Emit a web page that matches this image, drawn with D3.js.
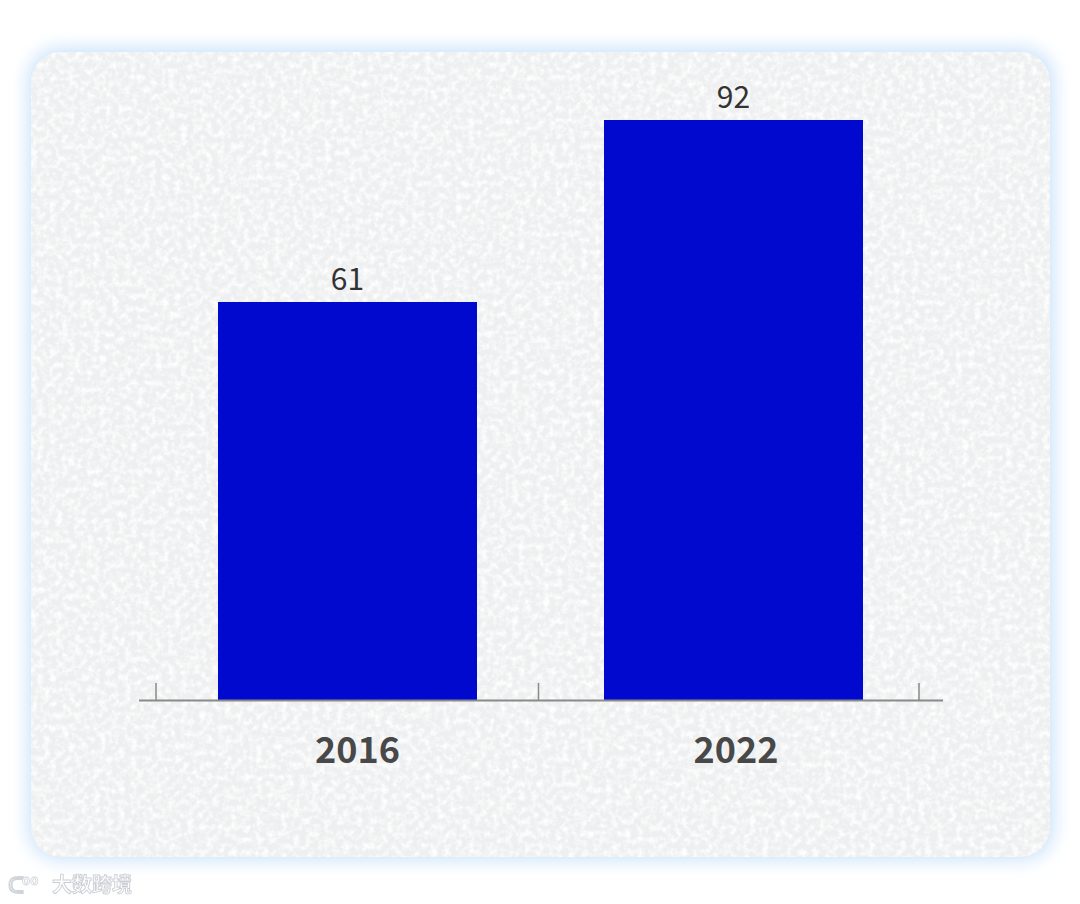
<!DOCTYPE html>
<html><head><meta charset="utf-8">
<script src="https://cdn.jsdelivr.net/npm/d3@7"></script>
<style>html,body{margin:0;padding:0;background:#fff;}svg{display:block;}</style>
</head><body><div id="chart"></div>
<script>
const categories = ["2016", "2022"];
const values = [61, 92];
const valueLabels = ["61", "92"];

const W = 1080, H = 904;
const svg = d3.select("#chart").append("svg").attr("width", W).attr("height", H);
const defs = svg.append("defs");

const glow = defs.append("filter").attr("id", "glow").attr("x", "-10%").attr("y", "-10%").attr("width", "120%").attr("height", "120%");
glow.append("feGaussianBlur").attr("in", "SourceGraphic").attr("stdDeviation", 9);

const tex = defs.append("filter").attr("id", "tex").attr("x", 0).attr("y", 0).attr("width", "100%").attr("height", "100%");
tex.append("feTurbulence").attr("type", "fractalNoise").attr("baseFrequency", 0.16).attr("numOctaves", 3).attr("seed", 7).attr("result", "n");
tex.append("feColorMatrix").attr("in", "n").attr("type", "matrix")
  .attr("values", "0 0 0 0 1  0 0 0 0 1  0 0 0 0 1  0 0 0 -2.2 1.35").attr("result", "w");
tex.append("feComposite").attr("in", "w").attr("in2", "SourceGraphic").attr("operator", "in").attr("result", "wc");
tex.append("feMerge").call(m => { m.append("feMergeNode").attr("in", "SourceGraphic"); m.append("feMergeNode").attr("in", "wc"); });

// card glow
svg.append("rect").attr("x", 28).attr("y", 48).attr("width", 1026).attr("height", 812).attr("rx", 32)
  .attr("fill", "#c9e2fb").attr("filter", "url(#glow)");
svg.append("rect").attr("x", 31).attr("y", 52).attr("width", 1019).attr("height", 805).attr("rx", 30)
  .attr("fill", "#eeeff0").attr("filter", "url(#tex)");

const font = "'Noto Sans CJK SC','Noto Sans',sans-serif";
// tick band scale (axis), bar band scale, label band scale
const xTick = d3.scaleBand().domain(categories).range([156, 921]).padding(0);
const xBar = d3.scaleBand().domain(categories).range([218, 863]).paddingInner(0.329).paddingOuter(0);
const xLab = d3.scaleBand().domain(categories).range([168.25, 925.25]).padding(0);
const y = d3.scaleLinear().domain([-6.8, 92]).range([700, 120]);

const g = svg.append("g");
g.selectAll("rect.bar").data(categories).join("rect").attr("class", "bar")
  .attr("x", d => xBar(d))
  .attr("y", (d, i) => y(values[i]))
  .attr("width", xBar.bandwidth())
  .attr("height", (d, i) => y(-6.8) - y(values[i]))
  .attr("fill", "#0209ce");

g.selectAll("text.val").data(categories).join("text").attr("class", "val")
  .attr("x", d => xBar(d) + xBar.bandwidth() / 2)
  .attr("y", (d, i) => y(values[i]) - 12)
  .attr("text-anchor", "middle").attr("font-family", font).attr("font-size", 30)
  .attr("fill", "#333").text((d, i) => valueLabels[i]);

// axis
g.append("line").attr("x1", 139).attr("x2", 943).attr("y1", 700.5).attr("y2", 700.5)
  .attr("stroke", "#8a8a8a").attr("stroke-width", 2);
const tickXs = categories.map(d => xTick(d)).concat([xTick.range()[1] - 2]);
g.selectAll("line.tick").data(tickXs).join("line").attr("class", "tick")
  .attr("x1", d => d).attr("x2", d => d).attr("y1", 683).attr("y2", 700)
  .attr("stroke", "#8a8a8a").attr("stroke-width", 1.5);

g.selectAll("text.cat").data(categories).join("text").attr("class", "cat")
  .attr("x", d => xLab(d) + xLab.bandwidth() / 2)
  .attr("y", 763)
  .attr("text-anchor", "middle").attr("font-family", font).attr("font-size", 36).attr("font-weight", "bold")
  .attr("fill", "#484848").text(d => d);

// watermark
const wm = svg.append("g").attr("opacity", 0.95);
wm.append("text").attr("x", 8).attr("y", 893).attr("font-family", font).attr("font-size", 22).attr("font-weight", "bold")
  .attr("fill", "#ffffff").attr("stroke", "#cfd3d8").attr("stroke-width", 1).text("ᑕ");
wm.append("text").attr("x", 22).attr("y", 885).attr("font-family", font).attr("font-size", 13).attr("font-weight", "bold")
  .attr("fill", "#ffffff").attr("stroke", "#cfd3d8").attr("stroke-width", 0.8).text("oo");
wm.append("text").attr("x", 52).attr("y", 892).attr("font-family", font).attr("font-size", 20).attr("font-weight", "bold")
  .attr("fill", "#ffffff").attr("stroke", "#c8ccd2").attr("stroke-width", 0.9).text("大数跨境");
</script></body></html>
